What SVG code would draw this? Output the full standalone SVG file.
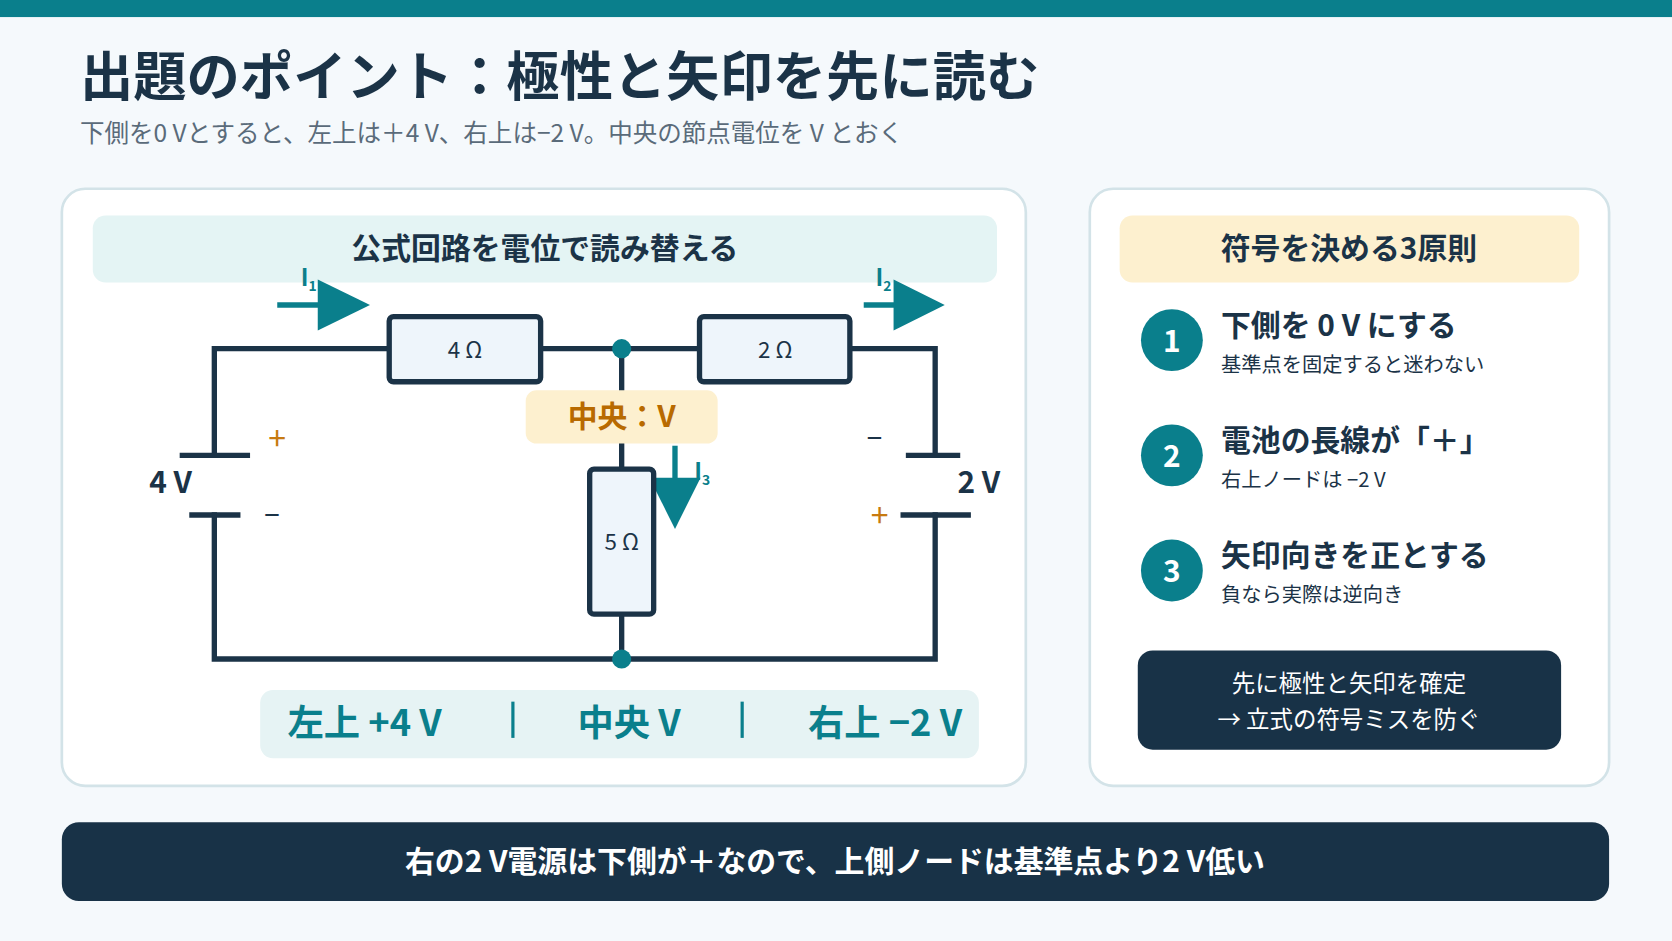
<svg xmlns="http://www.w3.org/2000/svg" width="1672" height="941" viewBox="0 0 1672 941">
<style>
text{font-family:"Noto Sans CJK JP","Noto Sans",sans-serif;}
.b{font-weight:700}
.w{stroke:#1b3347;stroke-width:5;fill:none;stroke-linecap:square}
.res{fill:#eef5fb;stroke:#1b3347;stroke-width:5}
.panel{fill:#fff;stroke:#d3e3e8;stroke-width:2.5}
.dk{fill:#1b3347}
.tl{fill:#0a7f8c}
</style>
<rect width="1672" height="941" fill="#f5f9fc"/>
<g transform="scale(1.06633)">
<rect x="0" y="0" width="1568" height="16" class="tl"/>
<g id="title">
<text x="75" y="90" font-size="50" class="b dk">出題のポイント：極性と矢印を先に読む</text>
<text x="75" y="133" font-size="23" fill="#5a6b7a">下側を0 Vとすると、左上は＋4 V、右上は−2 V。中央の節点電位を V とおく</text>
</g>
<g id="left-panel">
<rect x="58" y="177" width="904" height="560" rx="22" class="panel"/>
<rect x="87" y="202" width="848" height="63" rx="12" fill="#e4f4f4"/>
<text x="511" y="243" font-size="28" text-anchor="middle" class="b dk">公式回路を電位で読み替える</text>
</g>
<g id="connectors">
<path class="w" d="M365,327 H201 V427 M201,483 V618 H877 V483 M877,427 V327 H797 M507,327 H656 M583,327 V440 M583,576 V618"/>
<path class="w" d="M171,427 H232 M180,483 H223 M852,427 H898 M847,483 H908"/>
<g stroke="#0a7f8c" stroke-width="5">
<line x1="260" y1="286" x2="305" y2="286"/>
<line x1="810" y1="286" x2="842" y2="286"/>
<line x1="633" y1="418" x2="633" y2="455"/>
</g>
<polygon class="tl" points="298,262 347,286 298,310"/>
<polygon class="tl" points="838,262 886,286 838,310"/>
<polygon class="tl" points="609,448 657,448 633,496"/>
</g>
<g id="r4"><rect x="365" y="297" width="142" height="61" rx="4" class="res"/><text x="436" y="336" font-size="21" text-anchor="middle" class="dk">4 Ω</text></g>
<g id="r2"><rect x="656" y="297" width="141" height="61" rx="4" class="res"/><text x="727" y="336" font-size="21" text-anchor="middle" class="dk">2 Ω</text></g>
<g id="r5"><rect x="553" y="440" width="60" height="136" rx="4" class="res"/><text x="583" y="516" font-size="21" text-anchor="middle" class="dk">5 Ω</text></g>
<circle cx="583" cy="327" r="9" class="tl"/><circle cx="583" cy="618" r="9" class="tl"/>
<g id="center-label"><rect x="493" y="366" width="180" height="50" rx="10" fill="#fdf0cf"/><text x="583" y="400" font-size="28" text-anchor="middle" class="b" fill="#b86a00">中央：V</text></g>
<g id="labels">
<text x="260" y="422" font-size="30" text-anchor="middle" fill="#c77a10">+</text>
<text x="255" y="492" font-size="26" text-anchor="middle" class="dk">−</text>
<text x="820" y="420" font-size="26" text-anchor="middle" class="dk">−</text>
<text x="825" y="494" font-size="30" text-anchor="middle" fill="#c77a10">+</text>
<text x="160" y="462" font-size="28" text-anchor="middle" class="b dk">4 V</text>
<text x="918" y="462" font-size="28" text-anchor="middle" class="b dk">2 V</text>
<text x="282" y="268" font-size="22" class="b tl">I<tspan font-size="13" dy="5">1</tspan></text>
<text x="821" y="268" font-size="22" class="b tl">I<tspan font-size="13" dy="5">2</tspan></text>
<text x="651" y="450" font-size="22" class="b tl">I<tspan font-size="13" dy="5">3</tspan></text>
</g>
<g id="summary">
<rect x="244" y="647" width="674" height="64" rx="12" fill="#e6f3f4"/>
<text x="342" y="690" font-size="34" text-anchor="middle" class="b tl">左上 +4 V</text>
<text x="590" y="690" font-size="34" text-anchor="middle" class="b tl">中央 V</text>
<text x="830" y="690" font-size="34" text-anchor="middle" class="b tl">右上 −2 V</text>
<line x1="481" y1="658" x2="481" y2="692" stroke="#0a7f8c" stroke-width="3"/>
<line x1="696" y1="658" x2="696" y2="692" stroke="#0a7f8c" stroke-width="3"/>
</g>
<g id="right-panel">
<rect x="1022" y="177" width="487" height="560" rx="22" class="panel"/>
<rect x="1050" y="202" width="431" height="63" rx="12" fill="#fdf0cf"/>
<text x="1265" y="243" font-size="28" text-anchor="middle" class="b dk">符号を決める3原則</text>
</g>
<g id="rule1"><circle cx="1099" cy="319" r="29" class="tl"/><text x="1099" y="330" font-size="28" text-anchor="middle" class="b" fill="#fff">1</text>
<text x="1145" y="315" font-size="28" class="b dk">下側を 0 V にする</text><text x="1145" y="349" font-size="19" class="dk">基準点を固定すると迷わない</text></g>
<g id="rule2"><circle cx="1099" cy="427" r="29" class="tl"/><text x="1099" y="438" font-size="28" text-anchor="middle" class="b" fill="#fff">2</text>
<text x="1145" y="423" font-size="28" class="b dk">電池の長線が「＋」</text><text x="1145" y="457" font-size="19" class="dk">右上ノードは −2 V</text></g>
<g id="rule3"><circle cx="1099" cy="535" r="29" class="tl"/><text x="1099" y="546" font-size="28" text-anchor="middle" class="b" fill="#fff">3</text>
<text x="1145" y="531" font-size="28" class="b dk">矢印向きを正とする</text><text x="1145" y="565" font-size="19" class="dk">負なら実際は逆向き</text></g>
<g id="note"><rect x="1067" y="610" width="397" height="93" rx="14" fill="#183247"/>
<text x="1265" y="649" font-size="22" text-anchor="middle" fill="#fff">先に極性と矢印を確定</text>
<text x="1265" y="683" font-size="22" text-anchor="middle" fill="#fff">→ 立式の符号ミスを防ぐ</text></g>
<g id="banner"><rect x="58" y="771" width="1451" height="74" rx="16" fill="#183247"/>
<text x="783" y="818" font-size="28" text-anchor="middle" class="b" fill="#fff">右の2 V電源は下側が＋なので、上側ノードは基準点より2 V低い</text></g>
</g>
</svg>
